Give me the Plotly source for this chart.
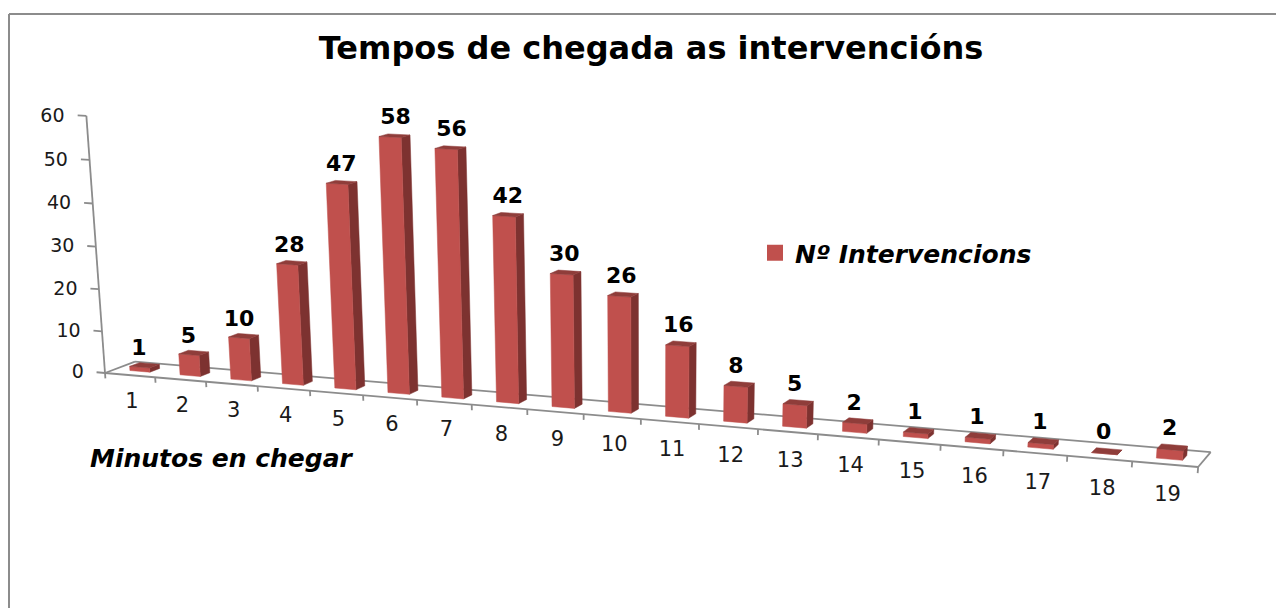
import plotly.graph_objects as go

# --- data ---
categories = [str(i) for i in range(1, 20)]
values = [1, 5, 10, 28, 47, 58, 56, 42, 30, 26, 16, 8, 5, 2, 1, 1, 1, 0, 2]
value_ticks = [0, 10, 20, 30, 40, 50, 60]
title_text = "Tempos de chegada as intervencións"
series_name = "Nº Intervencions"
x_title = "Minutos en chegar"

# --- 3-D perspective of the floor/wall of the chart (plotly's 2-D axes then place it) ---
W, H = 1284, 608
BODY = 8  # the page keeps an 8px margin round the plot
G_C, H_D, K_V = -0.00708, 0.01776, -0.00055


def project(c, d, v):
    """category position c (0..19), depth d (0 front..1 back), value v -> drawing coords"""
    w = 1 + G_C * c + H_D * d + K_V * v
    px = 105 + 49.05 * c + 32.4 * d - 0.358 * v
    py = 373 + 1.64 * c - 4.87 * d - 4.35 * v
    return px / w, py / w


BAR_W = 0.20
D0, D1 = 0.33, 0.66
FRONT, SIDE, TOP = "#c0504d", "#7d3230", "#8f3d3a"
GREY = "#8c8c8c"


def poly_trace(polys, color):
    xs, ys = [], []
    for poly in polys:
        pts = [project(*p) for p in poly]
        pts.append(pts[0])
        xs += [p[0] for p in pts] + [None]
        ys += [p[1] for p in pts] + [None]
    return go.Scatter(x=xs, y=ys, mode="lines", fill="toself", fillcolor=color,
                      line=dict(width=0.5, color=color), hoverinfo="skip", showlegend=False)


def line_trace(segments, width=1.8):
    xs, ys = [], []
    for a, b in segments:
        pa, pb = project(*a), project(*b)
        xs += [pa[0], pb[0], None]
        ys += [pa[1], pb[1], None]
    return go.Scatter(x=xs, y=ys, mode="lines", line=dict(color=GREY, width=width),
                      hoverinfo="skip", showlegend=False)


n = len(categories)
fig = go.Figure()

# floor outline, value axis and ticks
fig.add_trace(line_trace([
    ((0, 0, 0), (n, 0, 0)), ((0, 1, 0), (n, 1, 0)),
    ((0, 0, 0), (0, 1, 0)), ((n, 0, 0), (n, 1, 0)),
    ((0, 0, 0), (0, 0, value_ticks[-1])),
]))
fig.add_trace(line_trace(
    [((c, 0, 0), (c, 0, -1.3)) for c in range(n + 1)] +
    [((-0.17, 0, t), (0, 0, t)) for t in value_ticks]))

# bars
fronts, sides, tops = [], [], []
for i, v in enumerate(values):
    l, r = i + 0.5 - BAR_W, i + 0.5 + BAR_W
    fronts.append([(l, D0, 0), (r, D0, 0), (r, D0, v), (l, D0, v)])
    sides.append([(r, D0, 0), (r, D1, 0), (r, D1, v), (r, D0, v)])
    tops.append([(l, D0, v), (r, D0, v), (r, D1, v), (l, D1, v)])
fig.add_trace(poly_trace(sides, SIDE))
fig.add_trace(poly_trace(fronts, FRONT))
fig.add_trace(poly_trace(tops, TOP))

# data labels
pts = [project(i + 0.45 + 0.002 * v, 0.42, v + 3.9) for i, v in enumerate(values)]
fig.add_trace(go.Scatter(x=[p[0] for p in pts], y=[p[1] for p in pts], mode="text",
                         text=[str(v) for v in values], textposition="middle center",
                         textfont=dict(family="DejaVu Sans", size=22, color="#000000", weight="bold"),
                         hoverinfo="skip", showlegend=False))

# category labels
pts = [project(i + 0.5 + 0.004 * i, 0, -6.6) for i in range(n)]
fig.add_trace(go.Scatter(x=[p[0] for p in pts], y=[p[1] for p in pts], mode="text",
                         text=categories, textposition="middle center",
                         textfont=dict(family="DejaVu Sans", size=21, color="#1a1a1a"),
                         hoverinfo="skip", showlegend=False))

# value labels
pts = [project(-0.43, 0, t - 0.6) for t in value_ticks]
fig.add_trace(go.Scatter(x=[p[0] for p in pts], y=[p[1] for p in pts], mode="text",
                         text=[str(t) for t in value_ticks], textposition="middle left",
                         textfont=dict(family="DejaVu Sans", size=19, color="#1a1a1a"),
                         hoverinfo="skip", showlegend=False))

# legend entry
fig.add_trace(go.Scatter(x=[None], y=[None], mode="markers", name=series_name,
                         marker=dict(symbol="square", size=16, color=FRONT)))

PW, PH = W - BODY, H - BODY
fig.update_layout(
    width=PW, height=PH, autosize=False,
    margin=dict(l=0, r=0, t=0, b=0),
    paper_bgcolor="white", plot_bgcolor="white",
    xaxis=dict(range=[BODY, W], visible=False, fixedrange=True),
    yaxis=dict(range=[H, BODY], visible=False, fixedrange=True),
    title=dict(text=title_text, x=(651 - BODY) / PW, y=1 - (48 - BODY) / PH,
               xanchor="center", yanchor="middle",
               font=dict(family="DejaVu Sans", size=32, color="#000000", weight="bold")),
    legend=dict(x=(755 - BODY) / PW, y=1 - (253 - BODY) / PH, xanchor="left", yanchor="middle",
                bgcolor="rgba(0,0,0,0)",
                font=dict(family="DejaVu Sans", size=25, color="#000000", weight="bold", style="italic")),
    annotations=[dict(text=x_title, x=222, y=458, xref="x", yref="y", showarrow=False,
                      xanchor="center", yanchor="middle",
                      font=dict(family="DejaVu Sans", size=25, color="#000000",
                                weight="bold", style="italic"))],
    shapes=[
        dict(type="line", xref="x", yref="y", x0=9, x1=9, y0=14, y1=H, line=dict(color=GREY, width=2)),
        dict(type="line", xref="x", yref="y", x0=9, x1=W, y0=14, y1=14, line=dict(color=GREY, width=2)),
    ],
)
fig.write_html("out.html")
